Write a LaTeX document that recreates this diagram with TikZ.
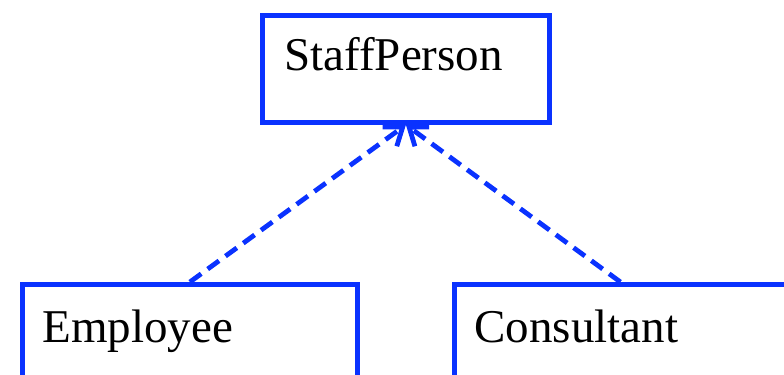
\documentclass[tikz,border=0pt]{standalone}
\usepackage{fontspec}
\setmainfont{Liberation Serif}
\newfontfamily\umlfont{Liberation Serif}
\usepackage{xcolor}
\usetikzlibrary{arrows.meta}

\definecolor{umlblue}{RGB}{10,50,255}

\begin{document}
\begin{tikzpicture}[x=0.5pt, y=-0.5pt,
  classbox/.style={draw=umlblue, line width=2.4pt, anchor=north west,
    inner ysep=0pt, align=left, font=\umlfont\fontsize{23.5}{28}\selectfont},
  realize/.style={draw=umlblue, line width=2.4pt, dash pattern=on 7pt off 4pt,
    -{Straight Barb[length=8pt, width=12pt]}}]

\path[use as bounding box, clip] (0,0) rectangle (784,375);

\node[classbox, inner xsep=11pt, text width=121.5pt,
  text height=27.5pt, text depth=26pt] (staff) at (260,13) {StaffPerson};

\node[classbox, inner xsep=10pt, text width=147.5pt,
  text height=29pt, text depth=40pt] (employee) at (20,282) {Employee};
\node[classbox, inner xsep=10pt, text width=146pt,
  text height=29pt, text depth=40pt] (consultant) at (452,282) {Consultant};

\draw[realize] (employee.north) -- (staff.south);
\draw[realize] (consultant.north) -- (staff.south);

\end{tikzpicture}
\end{document}
